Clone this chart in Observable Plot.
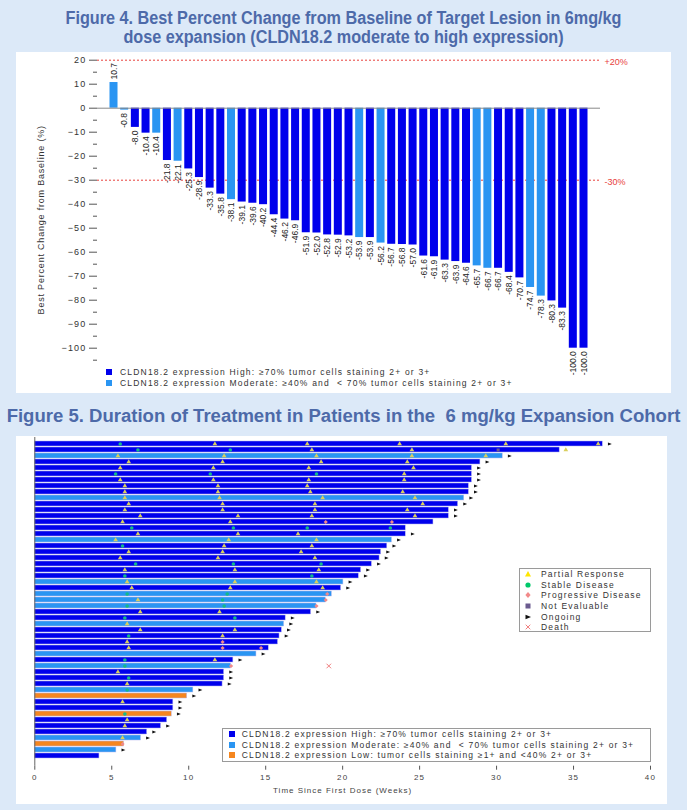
<!DOCTYPE html>
<html><head><meta charset="utf-8">
<script src="https://cdn.jsdelivr.net/npm/d3@7"></script>
<script src="https://cdn.jsdelivr.net/npm/@observablehq/plot@0.6"></script>
<style>
body{margin:0;background:#dce9f8;width:687px;height:810px;position:relative;overflow:hidden;font-family:"Liberation Sans",Arial,sans-serif;}
.title{position:absolute;left:0;width:687px;text-align:center;color:#4d6aa9;font-family:"Liberation Sans",Arial,sans-serif;font-weight:bold;font-size:18px;line-height:19px;white-space:nowrap;transform-origin:50% 50%;}
#p4{position:absolute;left:16px;top:52px;width:655px;height:341px;background:#fff;}
#p5{position:absolute;left:16px;top:436px;width:651px;height:368px;background:#fff;}
.lg{position:absolute;font-size:8.5px;letter-spacing:1.2px;color:#333;white-space:pre;line-height:10px;height:10px;}
.sq{position:absolute;width:6px;height:6px;}
.box{position:absolute;border:1.5px solid #9a9a9a;background:#fff;box-sizing:border-box;}
.symw{position:absolute;width:8px;height:8px;}
.symw svg{display:block;}
#p4 svg [aria-label="y-axis tick label"], #p5 svg [aria-label="x-axis tick label"]{letter-spacing:1.2px;}
#p4 svg [aria-label="y-axis label"]{letter-spacing:0.8px;}
#p5 svg [aria-label="x-axis label"]{letter-spacing:1px;}
</style></head>
<body>
<div class="title" style="top:9px;transform:scaleX(0.9)">Figure 4. Best Percent Change from Baseline of Target Lesion in 6mg/kg</div>
<div class="title" style="top:28px;transform:scaleX(0.9)">dose expansion (CLDN18.2 moderate to high expression)</div>
<div id="p4"></div>
<div class="title" style="top:407px;transform:scaleX(1.03)">Figure 5. Duration of Treatment in Patients in the &nbsp;6 mg/kg Expansion Cohort</div>
<div id="p5"></div>
<div id="legends"></div>
<script>
// ---------- Figure 4 data ----------
const pctChange = [10.7,-0.8,-8.0,-10.4,-10.4,-21.8,-22.1,-25.3,-28.9,-33.3,-35.8,-38.1,-39.1,-39.6,-40.2,-44.4,-46.2,-46.9,-51.9,-52.0,-52.8,-52.9,-53.2,-53.9,-53.9,-56.2,-56.7,-56.8,-57.0,-61.6,-61.9,-63.3,-63.9,-64.6,-65.7,-66.7,-66.7,-68.4,-70.7,-74.7,-78.3,-80.3,-83.3,-100.0,-100.0];
const moderateBars4 = [1,2,5,7,12,24,26,35,36,40,41]; // 1-based patient positions
const refLines = [20,-30];
const refLabels = ["+20%","-30%"];
const yTicks4 = [20,10,0,-10,-20,-30,-40,-50,-60,-70,-80,-90,-100];

// ---------- Figure 5 data ----------
const duration = [36.9,34.1,30.4,28.95,28.4,28.4,28.4,28.2,28.2,27.9,27.5,26.9,26.9,25.9,24.1,24.1,23.2,22.9,22.5,22.4,21.9,21.2,21.05,20.05,19.9,19.3,18.9,18.3,17.95,16.3,16.2,16.05,15.9,15.8,15.2,14.4,12.9,12.75,12.3,12.3,12.2,10.3,9.9,9.0,9.0,8.9,8.6,8.2,7.3,6.9,5.8,5.3,4.2];
const moderateRows5 = [3,10,17,24,26,27,28,31,36,38,42,50,52];
const lowRows5 = [43,46,51];
const notOngoingRows = [2,14,15,26,27,28,34,35,38,47,51,53];
const partialResponse = [[1,11.7],[1,17.7],[1,23.7],[1,30.6],[1,36.6],[2,18.0],[2,24.5],[2,34.5],
 [3,5.4],[3,12.3],[3,18.3],[3,24.5],[3,29.3],[4,6.1],[4,12.2],[4,18.6],[4,24.2],[5,5.55],[5,11.6],[5,17.8],[5,24.6],
 [6,24.0],[7,5.55],[7,11.6],[7,17.8],[7,24.0],[8,5.85],[8,11.9],[8,17.7],[9,5.85],[9,11.9],[9,17.9],[9,23.9],
 [10,5.85],[10,12.0],[10,18.7],[10,24.7],[11,6.1],[11,12.2],[11,18.2],[11,25.2],[12,5.85],[12,12.2],[12,18.2],[12,24.2],
 [13,6.85],[13,13.2],[13,18.0],[13,24.7],[14,5.7],[14,12.7],[16,6.7],[16,13.2],[16,17.1],[17,5.25],[17,12.6],[17,18.3],
 [18,12.3],[18,18.0],[19,6.1],[19,12.2],[19,17.3],[20,5.55],[20,11.9],[20,18.2],[22,5.85],[22,13.0],[22,18.45],
 [24,6.0],[24,13.0],[24,18.3],[25,6.3],[25,12.7],[25,18.7],[27,6.7],[29,6.85],[29,12.0],[31,6.0],[32,6.85],[32,13.0],
 [33,12.2],[34,6.0],[35,6.1],[37,11.7],[39,5.4],[41,6.0],[44,5.7],[47,6.0],[48,5.85],[50,5.7]];
const stableDisease = [[1,5.55],[2,6.7],[2,12.7],[6,5.25],[6,11.4],[6,18.3],[15,6.3],[15,12.9],[15,17.7],[15,23.1],
 [18,5.7],[21,6.55],[21,12.9],[21,18.6],[23,5.85],[23,18.0],[26,6.0],[26,12.5],[27,12.2],[28,6.0],[28,12.3],
 [30,5.85],[30,13.0],[33,6.1],[37,5.85],[38,5.85],[40,6.1],[42,6.0],[46,5.85]];
const progressiveDisease = [[14,18.9],[14,23.2],[26,19.0],[27,18.9],[28,18.3],[34,12.2],[35,12.2],[35,14.7],[38,12.75],[51,5.7]];
const notEvaluable = [[2,30.1]];
const death = [[38,19.1]];
const xTicks5 = [0,5,10,15,20,25,30,35,40];

const colors = {H:"#0000ec", M:"#2a95f2", L:"#f5861f"};

// ---------- Figure 4 ----------
const data4 = pctChange.map((v,i)=>({i, v, expr: moderateBars4.includes(i+1) ? "M" : "H"}));
const fig4 = Plot.plot({
  width:655, height:341, marginLeft:81, marginRight:71, marginTop:7.7, marginBottom:14.1,
  style:{fontFamily:"Liberation Sans, Arial, sans-serif", background:"transparent", color:"#333"},
  x:{type:"band", domain:d3.range(pctChange.length), paddingInner:0.25, paddingOuter:1.17, axis:null},
  y:{domain:[-113,20]},
  marks:[
    Plot.ruleY(refLines,{stroke:"#e8413c", strokeDasharray:"2,2", strokeWidth:1}),
    Plot.text(refLines,{y:d=>d, text:(d,i)=>refLabels[i], frameAnchor:"right", textAnchor:"start", dx:4, dy:2, fill:"#e8413c", fontSize:9}),
    Plot.barY(data4,{x:"i", y:"v", fill:d=>colors[d.expr]}),
    Plot.ruleY([0],{stroke:"#888", strokeWidth:1}),
    Plot.text(data4.filter(d=>d.v>=0),{x:"i", y:"v", text:d=>d.v.toFixed(1), rotate:-90, textAnchor:"start", dy:-3, fontSize:8.5, fill:"#222"}),
    Plot.text(data4.filter(d=>d.v<0),{x:"i", y:"v", text:d=>d.v.toFixed(1), rotate:-90, textAnchor:"end", dy:3, fontSize:8.5, fill:"#222"}),
    Plot.axisY({ticks:yTicks4, tickSize:8, tickPadding:3, fontSize:9, line:true, stroke:"#555",
      label:"Best Percent Change from Baseline (%)", labelAnchor:"center", labelArrow:"none", labelOffset:60}),
    Plot.axisY({ticks:d3.range(-105,20,10), tickSize:4, tickFormat:()=>"", label:null, stroke:"#555"})
  ]
});
document.getElementById("p4").appendChild(fig4);

// ---------- Figure 5 ----------
const rows = d3.range(1, duration.length+1);
const bars5 = rows.map((r,i)=>({row:r, dur:duration[i],
  expr: lowRows5.includes(r) ? "L" : moderateRows5.includes(r) ? "M" : "H",
  ongoing: !notOngoingRows.includes(r)}));
const arrowRight = {draw(ctx, size){ const s = Math.sqrt(size)*0.55; ctx.moveTo(s*1.1,0); ctx.lineTo(-s,-s*0.85); ctx.lineTo(-s,s*0.85); ctx.closePath(); }};
const pts = a => a.map(([row,w])=>({row,w}));
const fig5 = Plot.plot({
  width:651, height:368, marginLeft:18.3, marginRight:17, marginTop:1, marginBottom:38.3,
  style:{fontFamily:"Liberation Sans, Arial, sans-serif", background:"transparent", color:"#444"},
  x:{domain:[0,40]},
  y:{type:"band", domain:rows, range:[2,325.4], paddingInner:0.22, paddingOuter:0.3, axis:null},
  marks:[
    Plot.barX(bars5,{x:"dur", y:"row", fill:d=>colors[d.expr], stroke:"#b9b9ef", strokeWidth:0.5}),
    Plot.ruleX([0],{stroke:"#666"}),
    Plot.dot(pts(stableDisease),{x:"w", y:"row", symbol:"circle", r:1.8, fill:"#14b98a"}),
    Plot.dot(pts(partialResponse),{x:"w", y:"row", symbol:"triangle", r:1.75, fill:"#d9cf5e"}),
    Plot.dot(pts(progressiveDisease),{x:"w", y:"row", symbol:"diamond2", r:1.9, fill:"#f08a8a"}),
    Plot.dot(pts(notEvaluable),{x:"w", y:"row", symbol:"square", r:1.7, fill:"#6b5b8f"}),
    Plot.dot(pts(death),{x:"w", y:"row", symbol:"times", r:2.2, stroke:"#f08080", strokeWidth:1}),
    Plot.dot(bars5.filter(d=>d.ongoing),{x:"dur", y:"row", dx:7, symbol:arrowRight, r:1.9, fill:"#111"}),
    Plot.axisX({ticks:xTicks5, tickSize:4, tickPadding:4, fontSize:8, line:true, stroke:"#555",
      label:"Time Since First Dose (Weeks)", labelAnchor:"center", labelArrow:"none", labelOffset:27})
  ]
});
document.getElementById("p5").appendChild(fig5);

// ---------- Legends (HTML) ----------
const L = document.getElementById("legends");
function add(html){ L.insertAdjacentHTML("beforeend", html); }
const legend4 = [["H","CLDN18.2 expression High: \u226570% tumor cells staining 2+ or 3+"],
                 ["M","CLDN18.2 expression Moderate: \u226540% and  < 70% tumor cells staining 2+ or 3+"]];
legend4.forEach(([k,t],i)=>{
  const cy = 371.5 + i*11.5;
  add(`<div class="sq" style="left:106px;top:${cy-3}px;background:${colors[k]}"></div>`);
  add(`<div class="lg" style="left:120px;top:${cy-5}px">${t.replace(/</g,"&lt;")}</div>`);
});
// marker legend
add(`<div class="box" style="left:519px;top:568px;width:132px;height:64px"></div>`);
const symSvg = {
  pr:`<path d="M0,-3L3,2.5L-3,2.5Z" fill="#ffe600"/>`,
  sd:`<circle r="2.6" fill="#00c86a"/>`,
  pd:`<path d="M0,-3L2.6,0L0,3L-2.6,0Z" fill="#f28a8a"/>`,
  ne:`<rect x="-2.5" y="-2.5" width="5" height="5" fill="#6b5b8f"/>`,
  on:`<path d="M3,0L-2.5,-2.3L-2.5,2.3Z" fill="#111"/>`,
  de:`<path d="M-2.3,-2.3L2.3,2.3M2.3,-2.3L-2.3,2.3" stroke="#f08080" stroke-width="1"/>`
};
const legendMarkers = [["pr","Partial Response"],["sd","Stable Disease"],["pd","Progressive Disease"],["ne","Not Evaluable"],["on","Ongoing"],["de","Death"]];
legendMarkers.forEach(([k,t],i)=>{
  const cy = 574.3 + i*10.55;
  add(`<div class="symw" style="left:524.3px;top:${cy-4}px"><svg width="8" height="8" viewBox="-4 -4 8 8">${symSvg[k]}</svg></div>`);
  add(`<div class="lg" style="left:541px;top:${cy-5}px">${t}</div>`);
});
// colour legend
add(`<div class="box" style="left:222px;top:728px;width:429px;height:34px"></div>`);
const legend5 = [["H","CLDN18.2 expression High: \u226570% tumor cells staining 2+ or 3+"],
                 ["M","CLDN18.2 expression Moderate: \u226540% and  < 70% tumor cells staining 2+ or 3+"],
                 ["L","CLDN18.2 expression Low: tumor cells staining \u22651+ and <40% 2+ or 3+"]];
legend5.forEach(([k,t],i)=>{
  const cy = 734 + i*10.5;
  add(`<div class="sq" style="left:229px;top:${cy-3}px;background:${colors[k]}"></div>`);
  add(`<div class="lg" style="left:241.7px;top:${cy-5}px">${t.replace(/</g,"&lt;")}</div>`);
});
</script>
</body></html>
